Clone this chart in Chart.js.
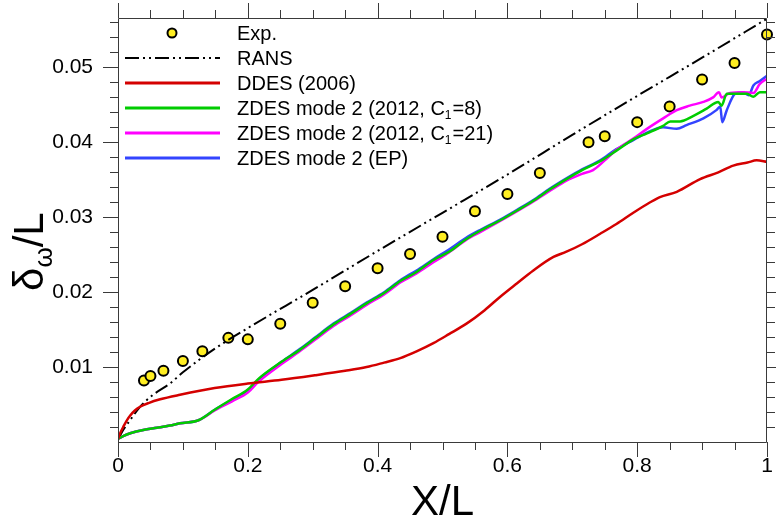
<!DOCTYPE html>
<html>
<head>
<meta charset="utf-8">
<script src="https://cdn.jsdelivr.net/npm/chart.js@4.4.1/dist/chart.umd.min.js"></script>
<style>
  html, body { margin: 0; padding: 0; background: #fff; }
  #wrap { width: 776px; height: 523px; }
</style>
</head>
<body>
<div id="wrap"><canvas id="chartCanvas" width="776" height="523"></canvas></div>
<script>
// Experimental points
const xExp = [0.04, 0.05, 0.07, 0.1, 0.13, 0.17, 0.2, 0.25, 0.3, 0.35, 0.4, 0.45, 0.5, 0.55, 0.6, 0.65, 0.725, 0.75, 0.8, 0.85, 0.9, 0.95, 1.0];
const yExp = [0.0082, 0.0088, 0.0095, 0.0108, 0.0121, 0.0139, 0.0137, 0.0158, 0.0186, 0.0208, 0.0232, 0.0251, 0.0274, 0.0308, 0.0331, 0.0359, 0.0400, 0.0408, 0.0427, 0.0448, 0.0484, 0.0506, 0.0544];

// RANS
const xRans = [0, 0.004, 0.008, 0.0185, 0.034, 0.054, 0.08, 0.1, 0.15, 0.2, 0.3, 0.4, 0.5, 0.6, 0.7, 0.8, 0.9, 1.0];
const yRans = [0.0004, 0.0010, 0.0016, 0.0029, 0.0047, 0.0063, 0.0078, 0.0093, 0.0125, 0.0152, 0.0203, 0.0255, 0.0306, 0.0357, 0.0410, 0.0462, 0.0513, 0.0565];

// DDES (2006)
const xDdes = [0, 0.004, 0.008, 0.013, 0.0185, 0.026, 0.034, 0.047, 0.065, 0.0955, 0.149, 0.2, 0.252, 0.303, 0.35, 0.383, 0.41, 0.435, 0.46, 0.486, 0.51, 0.537, 0.565, 0.589, 0.615, 0.64, 0.671, 0.691, 0.715, 0.743, 0.768, 0.794, 0.82, 0.835, 0.861, 0.897, 0.925, 0.948, 0.97, 0.984, 1.0];
const yDdes = [0.0004, 0.0013, 0.0020, 0.0028, 0.0035, 0.0042, 0.0047, 0.0052, 0.0057, 0.0063, 0.0072, 0.0078, 0.0083, 0.0089, 0.0095, 0.0100, 0.0106, 0.0112, 0.0121, 0.0132, 0.0144, 0.0158, 0.0176, 0.0194, 0.0212, 0.0229, 0.0247, 0.0254, 0.0264, 0.0278, 0.0291, 0.0306, 0.0320, 0.0327, 0.0334, 0.0351, 0.0360, 0.0369, 0.0373, 0.0376, 0.0374];

// ZDES mode 2 (2012, C1=8)
const xZdes8 = [0, 0.008, 0.02, 0.039, 0.06, 0.08, 0.0955, 0.124, 0.149, 0.175, 0.2, 0.216, 0.252, 0.28, 0.303, 0.332, 0.36, 0.383, 0.41, 0.435, 0.46, 0.486, 0.51, 0.537, 0.56, 0.589, 0.615, 0.64, 0.665, 0.691, 0.715, 0.743, 0.768, 0.794, 0.815, 0.84, 0.851, 0.866, 0.886, 0.907, 0.925, 0.93, 0.938, 0.953, 0.969, 0.979, 0.989, 1.0];
const yZdes8 = [0.0004, 0.0008, 0.0012, 0.0016, 0.0019, 0.0022, 0.0025, 0.0029, 0.0043, 0.0057, 0.0070, 0.0084, 0.0107, 0.0123, 0.0138, 0.0157, 0.0172, 0.0185, 0.0199, 0.0215, 0.0227, 0.0243, 0.0254, 0.0271, 0.0283, 0.0296, 0.0309, 0.0322, 0.0337, 0.0351, 0.0363, 0.0375, 0.0389, 0.0404, 0.0412, 0.0422, 0.0428, 0.0428, 0.0435, 0.0445, 0.0454, 0.0449, 0.0465, 0.0465, 0.0465, 0.0461, 0.0467, 0.0467];

// ZDES mode 2 (2012, C1=21)
const xZdes21 = [0, 0.008, 0.02, 0.039, 0.06, 0.08, 0.0955, 0.124, 0.149, 0.175, 0.2, 0.216, 0.252, 0.28, 0.303, 0.332, 0.36, 0.383, 0.41, 0.435, 0.46, 0.486, 0.51, 0.537, 0.56, 0.589, 0.615, 0.64, 0.665, 0.691, 0.715, 0.732, 0.75, 0.768, 0.794, 0.815, 0.84, 0.861, 0.881, 0.902, 0.917, 0.926, 0.93, 0.943, 0.963, 0.979, 0.989, 1.0];
const yZdes21 = [0.0004, 0.0008, 0.0012, 0.0016, 0.0019, 0.0022, 0.0025, 0.0029, 0.0042, 0.0054, 0.0066, 0.0080, 0.0104, 0.0121, 0.0136, 0.0155, 0.0170, 0.0183, 0.0197, 0.0213, 0.0225, 0.0240, 0.0253, 0.0270, 0.0281, 0.0295, 0.0308, 0.0321, 0.0335, 0.0349, 0.0358, 0.0363, 0.0376, 0.0390, 0.0405, 0.0418, 0.0432, 0.0443, 0.0449, 0.0454, 0.0460, 0.0467, 0.0460, 0.0466, 0.0467, 0.0466, 0.0478, 0.0485];

// ZDES mode 2 (EP)
const xZdesEp = [0, 0.008, 0.02, 0.039, 0.06, 0.08, 0.0955, 0.124, 0.149, 0.175, 0.2, 0.216, 0.252, 0.28, 0.303, 0.332, 0.36, 0.383, 0.41, 0.435, 0.46, 0.486, 0.51, 0.537, 0.56, 0.589, 0.615, 0.64, 0.665, 0.691, 0.715, 0.743, 0.768, 0.794, 0.82, 0.84, 0.861, 0.876, 0.902, 0.922, 0.928, 0.931, 0.938, 0.951, 0.963, 0.972, 0.979, 0.989, 1.0];
const yZdesEp = [0.0004, 0.0008, 0.0012, 0.0016, 0.0019, 0.0022, 0.0025, 0.0029, 0.0043, 0.0056, 0.0069, 0.0083, 0.0107, 0.0124, 0.0139, 0.0158, 0.0173, 0.0186, 0.0200, 0.0216, 0.0229, 0.0244, 0.0257, 0.0273, 0.0284, 0.0297, 0.0310, 0.0323, 0.0338, 0.0352, 0.0364, 0.0376, 0.0391, 0.0403, 0.0415, 0.0420, 0.0418, 0.0423, 0.0432, 0.0443, 0.0448, 0.0427, 0.0443, 0.0465, 0.0467, 0.0463, 0.0476, 0.0482, 0.0489];

const FONT = "'Liberation Sans', Arial, Helvetica, sans-serif";
const AXIS_COLOR = "#3a3a3a";

function toPoints(xs, ys) {
    return xs.map((x, i) => ({ x: x, y: ys[i] }));
}

function fmt(v) {
    return String(Number(v.toFixed(3)));
}

// Legend entries; sub is drawn as a subscript after pre
const legendItems = [
    { kind: "point", pre: "Exp." },
    { kind: "line", color: "#000000", dash: [14, 4, 2, 4, 2, 4], width: 2, pre: "RANS" },
    { kind: "line", color: "#d40000", dash: [], width: 3, pre: "DDES (2006)" },
    { kind: "line", color: "#00cc00", dash: [], width: 3, pre: "ZDES mode 2 (2012, C", sub: "1", post: "=8)" },
    { kind: "line", color: "#ff00ff", dash: [], width: 3, pre: "ZDES mode 2 (2012, C", sub: "1", post: "=21)" },
    { kind: "line", color: "#3344ff", dash: [], width: 3, pre: "ZDES mode 2 (EP)" },
];

// Frame, outward ticks on all four sides, axis titles and the legend
const decorations = {
    id: "decorations",
    afterDraw(chart) {
        const ctx = chart.ctx;
        const xs = chart.scales.x;
        const ys = chart.scales.y;
        const a = chart.chartArea;
        ctx.save();
        ctx.strokeStyle = AXIS_COLOR;
        ctx.lineWidth = 1;
        ctx.beginPath();
        ctx.rect(a.left + 0.5, a.top + 0.5, a.right - a.left - 1, a.bottom - a.top);
        ctx.stroke();

        ctx.beginPath();
        for (let i = 0; i <= 20; i++) {
            const v = i * 0.05;
            const px = Math.round(xs.getPixelForValue(v)) + 0.5;
            const len = i % 4 === 0 ? 15 : 8;
            ctx.moveTo(px, a.bottom);
            ctx.lineTo(px, a.bottom + len);
            ctx.moveTo(px, a.top);
            ctx.lineTo(px, a.top - len);
        }
        for (let i = 1; i <= 28; i++) {
            const v = i * 0.002;
            const py = Math.round(ys.getPixelForValue(v)) + 0.5;
            const len = i % 5 === 0 ? 15 : 8;
            ctx.moveTo(a.left, py);
            ctx.lineTo(a.left - len, py);
            ctx.moveTo(a.right, py);
            ctx.lineTo(a.right + len, py);
        }
        ctx.stroke();

        // x axis title
        ctx.fillStyle = "#000";
        ctx.font = "42px " + FONT;
        ctx.textAlign = "center";
        ctx.textBaseline = "alphabetic";
        ctx.fillText("X/L", (a.left + a.right) / 2, 515);

        // y axis title, rotated, with subscript omega
        ctx.save();
        ctx.translate(43, 291);
        ctx.rotate(-Math.PI / 2);
        ctx.textAlign = "left";
        ctx.font = "42px " + FONT;
        ctx.fillText("\u03b4", 0, 0);
        let off = ctx.measureText("\u03b4").width;
        ctx.font = "26px " + FONT;
        ctx.fillText("\u03c9", off, 9);
        off += ctx.measureText("\u03c9").width;
        ctx.font = "42px " + FONT;
        ctx.fillText("/L", off, 0);
        ctx.restore();

        // legend
        const rowY = [33, 58, 83, 108, 133, 158];
        legendItems.forEach((it, i) => {
            const y = rowY[i];
            if (it.kind === "point") {
                ctx.beginPath();
                ctx.arc(172, y, 4.5, 0, Math.PI * 2);
                ctx.fillStyle = "#ffee22";
                ctx.fill();
                ctx.lineWidth = 2;
                ctx.strokeStyle = "#000";
                ctx.stroke();
            } else {
                ctx.beginPath();
                ctx.setLineDash(it.dash);
                ctx.lineWidth = it.width;
                ctx.strokeStyle = it.color;
                ctx.moveTo(125, y);
                ctx.lineTo(220, y);
                ctx.stroke();
                ctx.setLineDash([]);
            }
            ctx.fillStyle = "#000";
            ctx.textAlign = "left";
            ctx.font = "20px " + FONT;
            let tx = 237;
            ctx.fillText(it.pre, tx, y + 7);
            if (it.sub) {
                tx += ctx.measureText(it.pre).width;
                ctx.font = "12px " + FONT;
                ctx.fillText(it.sub, tx, y + 11);
                tx += ctx.measureText(it.sub).width + 1;
                ctx.font = "20px " + FONT;
                ctx.fillText(it.post, tx, y + 7);
            }
        });
        ctx.restore();
    }
};

const lineDefaults = {
    type: "line",
    pointRadius: 0,
    fill: false,
    cubicInterpolationMode: "monotone",
};

const ctx = document.getElementById("chartCanvas").getContext("2d");
const chart = new Chart(ctx, {
    type: "line",
    data: {
        datasets: [
            { ...lineDefaults, label: "DDES (2006)", data: toPoints(xDdes, yDdes), borderColor: "#d40000", borderWidth: 2.5 },
            { ...lineDefaults, label: "ZDES mode 2 (2012, C1=8)", data: toPoints(xZdes8, yZdes8), borderColor: "#00cc00", borderWidth: 2.5 },
            { ...lineDefaults, label: "ZDES mode 2 (2012, C1=21)", data: toPoints(xZdes21, yZdes21), borderColor: "#ff00ff", borderWidth: 2.5 },
            { ...lineDefaults, label: "ZDES mode 2 (EP)", data: toPoints(xZdesEp, yZdesEp), borderColor: "#3344ff", borderWidth: 2.5 },
            { ...lineDefaults, label: "RANS", data: toPoints(xRans, yRans), borderColor: "#000000", borderWidth: 2, borderDash: [14, 4, 2, 4, 2, 4] },
            {
                type: "line",
                label: "Exp.",
                data: toPoints(xExp, yExp),
                showLine: false,
                pointRadius: 5,
                pointBorderWidth: 2,
                pointBackgroundColor: "#ffee22",
                pointBorderColor: "#000000",
                clip: false,
            },
        ],
    },
    options: {
        responsive: false,
        animation: false,
        layout: { padding: { top: 18, right: 9, left: 0, bottom: 0 } },
        plugins: {
            legend: { display: false },
            tooltip: { enabled: false },
        },
        scales: {
            x: {
                type: "linear",
                min: 0,
                max: 1,
                // tick marks are drawn by the plugin; tickLength only spaces the labels
                grid: { display: false, drawTicks: true, tickLength: 12 },
                border: { display: false },
                afterFit: s => { s.height = 81; },
                ticks: {
                    stepSize: 0.2,
                    padding: 0,
                    color: "#000",
                    maxRotation: 0,
                    font: { family: FONT, size: 21 },
                    callback: v => fmt(v),
                },
            },
            y: {
                type: "linear",
                min: 0,
                max: 0.0566,
                grid: { display: false, drawTicks: true, tickLength: 25 },
                border: { display: false },
                afterFit: s => { s.width = 118; },
                ticks: {
                    stepSize: 0.01,
                    includeBounds: false,
                    padding: 0,
                    color: "#000",
                    font: { family: FONT, size: 21 },
                    callback: v => (v === 0 ? "" : v.toFixed(2)),
                },
            },
        },
    },
    plugins: [decorations],
});
</script>
</body>
</html>
